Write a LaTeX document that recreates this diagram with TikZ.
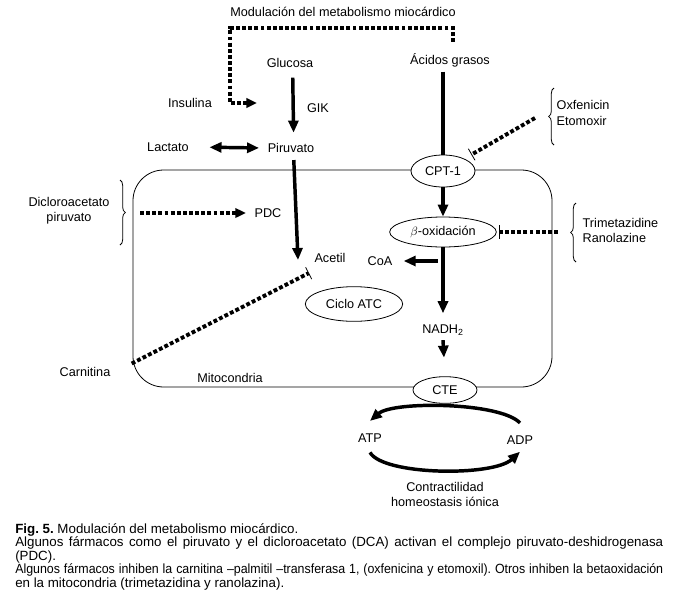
\documentclass[tikz,border=0pt]{standalone}
\usepackage{fontspec}
\setmainfont{Liberation Sans}
\newfontfamily\capnarrow[FakeStretch=0.93]{Liberation Sans}
\usetikzlibrary{arrows.meta,shapes.geometric,decorations.pathreplacing}

\begin{document}
\frenchspacing
\begin{tikzpicture}[
            x = 0.75pt, y = -0.75pt,
            every node/.style = {font = \fontsize{9.5}{11.3}\selectfont},
            enzyme/.style = {draw, ellipse, line width = 0.6pt, fill = white, inner sep = 0pt},
            thinline/.style = {line width = 0.6pt},
            fatline/.style = {line width = 2.6pt},
            fatarrow/.style = {fatline, -{Triangle[length = 9pt, width = 7.5pt]}},
            dotline/.style = {line width = 2.9pt, dash pattern = on 2.9pt off 1.7pt},
            dotarrow/.style = {dotline, -{Triangle[length = 8pt, width = 7pt]}},
            dotbar/.style = {dotline, -{Bar[width = 10pt, line width = 0.6pt]}},
            curly/.style = {thinline, decorate, decoration = {brace, amplitude = 4pt}}
        ]
        \useasboundingbox (0,0) rectangle (676,601);

        \draw[thinline, rounded corners = 23pt] (133,170) rectangle (552,387);

        \node (modul) at (343,12) {Modulación del metabolismo miocárdico};
        \node (glucosa) at (290,63) {Glucosa};
        \node (gik) at (318,108) {GIK};
        \node (insulina) at (190,103) {Insulina};
        \node (lactato) at (168,147) {Lactato};
        \node (piruvato) at (291,148) {Piruvato};
        \node (acidos) at (450,60) {Ácidos grasos};
        \node[enzyme, minimum width = 48pt, minimum height = 24pt] (cpt) at (443,171) {CPT-1};
        \node[enzyme, minimum width = 80pt, minimum height = 22.5pt] (betaox) at (443,232) {$\beta$-oxidación};
        \node[enzyme, minimum width = 73pt, minimum height = 26pt] (ciclo) at (354,304) {Ciclo ATC};
        \node (nadh) at (443,330) {NADH\textsubscript{2}};
        \node[enzyme, minimum width = 48pt, minimum height = 20pt] (cte) at (445,390) {CTE};
        \node (pdc) at (268,213) {PDC};
        \node[align = center] (dca) at (69,211) {Dicloroacetato\\piruvato};
        \node[align = left, anchor = west] (oxfen) at (552,113) {Oxfenicin\\Etomoxir};
        \node[align = left, anchor = west] (trimet) at (578,230) {Trimetazidine\\Ranolazine};
        \node (acetil) at (330,258) {Acetil};
        \node (coa) at (380,261) {CoA};
        \node (carnitina) at (85,372) {Carnitina};
        \node (mito) at (230,378) {Mitocondria};
        \node (atp) at (370,438) {ATP};
        \node (adp) at (520,440) {ADP};
        \node[align = center] (contr) at (445,494) {Contractilidad\\homeostasis iónica};

        \coordinate (modR) at (453,28);
        \coordinate (modL) at (230,28);
        \coordinate (insarr) at (257,103);
        \coordinate (dcatip) at (128,213);
        \coordinate (oxftip) at (535,118);
        \coordinate (trimtip) at (558,232);
        \coordinate (acetilin) at (298,260);
        \coordinate (acetilinh) at (309,273);

        \draw[curly] (120,180) -- (120,245);
        \draw[curly] (554,145) -- (554,88);
        \draw[curly] (576,262) -- (576,203);

        \draw[dotarrow, shorten <= 5pt] (acidos.north -| modR) -- (modR) -- (modL) |- (insarr);
        \draw[fatarrow, shorten <= 4pt, shorten >= 4.5pt] ([xshift=2pt]glucosa.south) -- ([xshift=2pt]piruvato.north);
        \draw[fatline, {Triangle[length = 9pt, width = 7.5pt]}-{Triangle[length = 9pt, width = 7.5pt]}, shorten <= 12pt, shorten >= 3pt] (lactato.east) -- (piruvato.west);
        \draw[fatarrow, shorten <= 2pt] ([xshift=2pt]piruvato.south) -- (acetilin);
        \draw[fatline] (acidos.south -| cpt.north) -- (cpt.north);
        \draw[fatarrow] (cpt.south) -- (betaox.north);
        \draw[fatarrow, shorten >= 5pt] (betaox.south) -- (nadh.north);
        \draw[fatarrow, shorten >= 5pt] ([xshift=-4pt]betaox.south |- coa.east) -- (coa.east);
        \draw[fatarrow, shorten >= 14pt] (nadh.south) -- (cte.north);
        \draw[dotarrow, shorten <= 9pt, shorten >= 3pt] (dcatip) -- (pdc.west);
        \draw[dotbar, shorten >= 6pt] (oxftip) -- (cpt);
        \draw[dotbar, shorten >= 2pt] (trimtip) -- (betaox.east);
        \draw[dotbar, shorten <= 14pt] (carnitina.east) -- (acetilinh);
        \draw[fatarrow] ([yshift=6pt]adp.north) .. controls +(-20,-21) and +(23,-20) .. ([yshift=6pt]atp.north);
        \draw[fatarrow] ([yshift=-4pt]atp.south) .. controls +(13,23) and +(-27,25) .. ([yshift=-2pt]adp.south);

        \node[anchor = north west, text width = 486pt, align = justify, inner sep = 0pt, font = \fontsize{10}{10.2}\selectfont] (caption) at (15,523) {\textbf{Fig. 5.} Modulación del metabolismo miocárdico.\\
        Algunos fármacos como el piruvato y el dicloroacetato (DCA) activan el complejo piruvato-deshidrogenasa\linebreak (PDC).\\
        {\capnarrow Algunos fármacos inhiben la carnitina –palmitil –transferasa 1, (oxfenicina y etomoxil). Otros inhiben la betaoxidación}\linebreak en la mitocondria (trimetazidina y ranolazina).};
    \end{tikzpicture}
\end{document}
